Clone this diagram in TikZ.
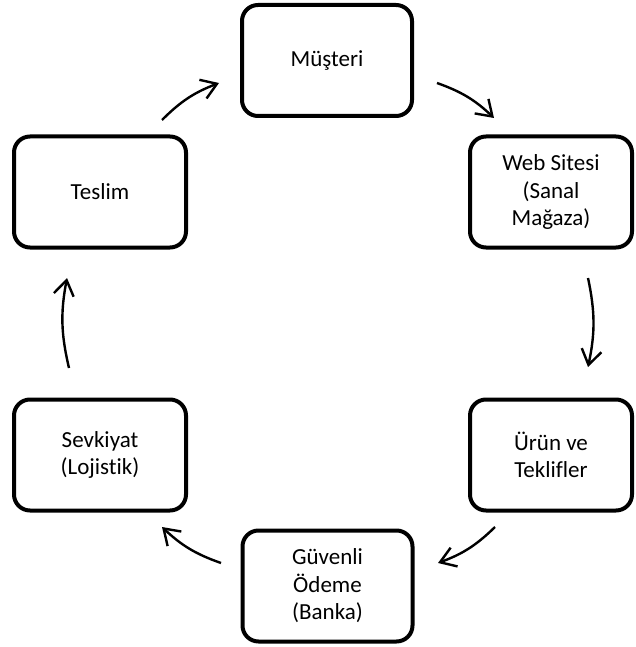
\documentclass[tikz,border=0pt]{standalone}
\usepackage{fontspec}
\setmainfont{Carlito}[Ligatures=NoCommon]
\usetikzlibrary{arrows.meta}
\begin{document}
\begin{tikzpicture}[x=1pt,y=-1pt,
  stage/.style={draw=black, line width=4pt, rounded corners=16pt,
    minimum width=#1, minimum height=111pt, inner sep=0pt, align=center,
    font=\fontsize{23}{27.5}\selectfont},
  stage/.default=170pt,
  flow/.style={line width=2.4pt, -{Straight Barb[length=15pt,width=20pt,line width=2.4pt]}, bend left=12}]
\useasboundingbox (0,0) rectangle (636,647);

% process stages, clockwise from the top
\node[stage] (musteri) at (327,60.5) {Müşteri};
\node[stage=162pt] (web) at (551,192) {Web Sitesi\\(Sanal\\Mağaza)};
\node[stage=162pt] (urun) at (551,455) {Ürün ve\\Teklifler};
\node[stage] (odeme) at (327.5,586) {Güvenli\\Ödeme\\(Banka)};
\node[stage=172pt] (sevk) at (100,455) {Sevkiyat\\(Lojistik)};
\node[stage=172pt] (teslim) at (100,192) {Teslim};

% arrow end points in the gaps between the stages
\coordinate (a1s) at (162,120);  \coordinate (a1e) at (219,83);
\coordinate (a2s) at (437,83);   \coordinate (a2e) at (494,118);
\coordinate (a3s) at (588,278);  \coordinate (a3e) at (588,367);
\coordinate (a4s) at (495,527);  \coordinate (a4e) at (438,563);
\coordinate (a5s) at (221,563);  \coordinate (a5e) at (162,527);
\coordinate (a6s) at (69,368);   \coordinate (a6e) at (67,278);

\draw[flow] (a1s) to (a1e);
\draw[flow] (a2s) to (a2e);
\draw[flow] (a3s) to (a3e);
\draw[flow] (a4s) to (a4e);
\draw[flow] (a5s) to (a5e);
\draw[flow] (a6s) to (a6e);
\end{tikzpicture}
\end{document}
